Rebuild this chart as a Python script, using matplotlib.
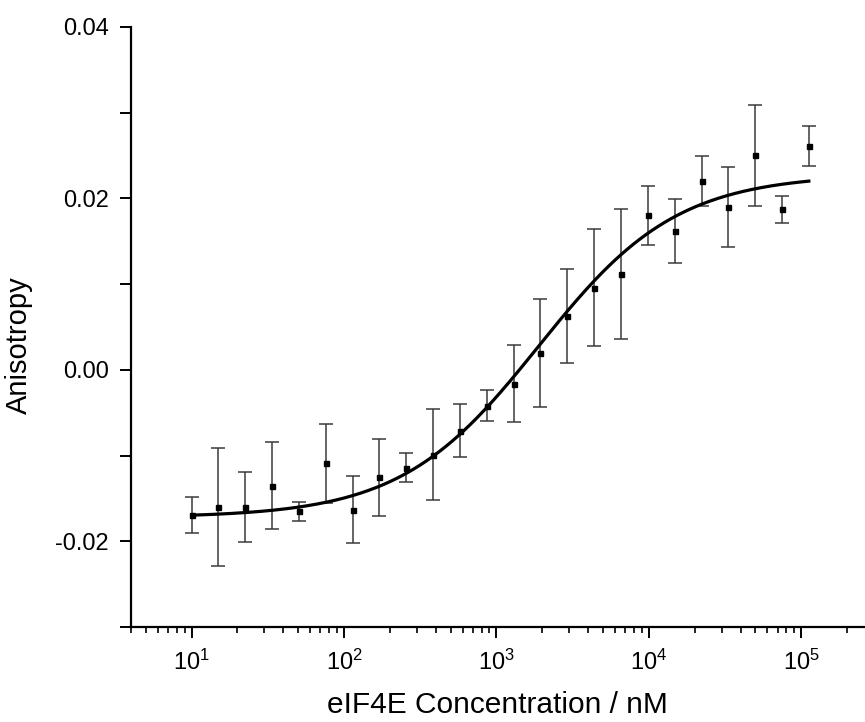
import numpy as np
import matplotlib
matplotlib.use('Agg')
import matplotlib.pyplot as plt
from matplotlib.ticker import LogLocator, MultipleLocator, NullFormatter

plt.rcParams['font.family'] = ['Liberation Sans', 'DejaVu Sans']

# eIF4E titration, concentration in nM
conc = [10, 15, 22.5, 33.75, 50.63, 75.94, 113.9, 170.9, 256.3, 384.4, 576.7, 865.0,
        1297, 1946, 2919, 4379, 6568, 9853, 14780, 22170, 33250, 49880, 74820, 112200]
aniso = [-0.0169, -0.0160, -0.0160, -0.0135, -0.0165, -0.0109, -0.0163, -0.0125,
         -0.0114, -0.0099, -0.0071, -0.0042, -0.0016, 0.0020, 0.0063, 0.0096,
         0.0112, 0.0180, 0.0162, 0.0220, 0.0190, 0.0250, 0.0187, 0.0261]
err = [0.0021, 0.0069, 0.0041, 0.0051, 0.0011, 0.0046, 0.0039, 0.0045,
       0.0017, 0.0053, 0.0031, 0.0018, 0.0045, 0.0063, 0.0055, 0.0068,
       0.0076, 0.0034, 0.0037, 0.0029, 0.0047, 0.0059, 0.0016, 0.0023]

# logistic fit parameters
A1, A2, x0, p = -0.0172, 0.0228, 1900.0, 0.955

fig = plt.figure(figsize=(8.65, 7.22), dpi=100)
ax = fig.add_axes([0.1514, 0.1312, 0.848, 0.8318])

xf = np.logspace(1, np.log10(conc[-1]), 300)
yf = A2 + (A1 - A2) / (1 + (xf / x0) ** p)

ax.errorbar(conc, aniso, yerr=err, fmt='s', color='black', ms=3.6,
            ecolor='#3a3a3a', elinewidth=1.1, capsize=5, capthick=1.1, zorder=2)
ax.plot(xf, yf, color='black', lw=2.3, zorder=3)

ax.set_xscale('log')
ax.set_xlim(4, 2.6e5)
ax.set_ylim(-0.03, 0.04)

ax.xaxis.set_major_locator(LogLocator(base=10, numticks=10))
ax.xaxis.set_minor_locator(LogLocator(base=10, subs=np.arange(2, 10), numticks=20))
ax.xaxis.set_minor_formatter(NullFormatter())
ax.yaxis.set_major_locator(MultipleLocator(0.02))
ax.yaxis.set_minor_locator(MultipleLocator(0.01))
ax.yaxis.set_major_formatter(plt.FuncFormatter(lambda v, pos: '%.2f' % v))

for s in ['top', 'right']:
    ax.spines[s].set_visible(False)
for s in ['left', 'bottom']:
    ax.spines[s].set_linewidth(1.6)

ax.tick_params(axis='both', which='major', direction='out', length=8, width=1.4,
               labelsize=17, pad=8)
ax.tick_params(axis='x', which='minor', direction='out', length=4.5, width=1.2)
ax.tick_params(axis='y', which='minor', direction='out', length=8, width=1.4)

ax.set_xlabel('eIF4E Concentration / nM', fontsize=21.5, labelpad=12)
ax.set_ylabel('Anisotropy', fontsize=21)
ax.yaxis.set_label_coords(-0.134, 0.47)

fig.savefig('out.png', dpi=100)
